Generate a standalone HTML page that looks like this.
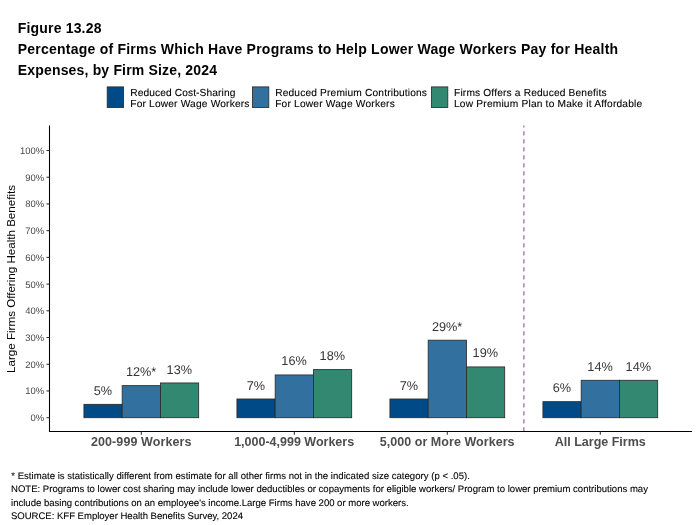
<!DOCTYPE html>
<html><head><meta charset="utf-8"><title>Figure 13.28</title>
<style>
html,body{margin:0;padding:0;background:#fff;}
body{width:698px;height:525px;overflow:hidden;font-family:"Liberation Sans",Arial,sans-serif;}
svg{display:block;position:absolute;left:0;top:0;}
text{font-family:"Liberation Sans",Arial,sans-serif;}
.t{font-weight:bold;font-size:14px;fill:#000;}
.lg{text-rendering:geometricPrecision;font-size:10.2px;fill:#000;stroke:#000;stroke-width:0.1px;}
.yt{text-rendering:geometricPrecision;font-size:9.45px;fill:#464646;text-anchor:end;}
.xt{font-size:12.5px;font-weight:bold;fill:#4d4d4d;}
.vl{text-rendering:geometricPrecision;font-size:12.7px;fill:#353535;text-anchor:middle;}
.ya{font-size:11.6px;fill:#000;text-anchor:middle;}
.nt{text-rendering:geometricPrecision;font-size:9.55px;fill:#000;stroke:#000;stroke-width:0.1px;}
</style></head><body>
<svg width="698" height="525" viewBox="0 0 698 525">
<rect width="698" height="525" fill="#fff"/>
<text id="T1" class="t" x="17.74" y="33.20" textLength="83.69" lengthAdjust="spacing">Figure 13.28</text>
<text id="T2" class="t" x="17.74" y="54.00" textLength="600.39" lengthAdjust="spacing">Percentage of Firms Which Have Programs to Help Lower Wage Workers Pay for Health</text>
<text id="T3" class="t" x="17.74" y="74.80" textLength="199.21" lengthAdjust="spacing">Expenses, by Firm Size, 2024</text>
<rect x="107.2" y="86.9" width="16.4" height="20.6" fill="#004B87" stroke="#2b2b2b" stroke-width="0.85"/>
<text id="L1a" class="lg" x="130.27" y="96.00" textLength="105.12" lengthAdjust="spacing">Reduced Cost-Sharing</text>
<text id="L1b" class="lg" x="130.27" y="107.00" textLength="119.14" lengthAdjust="spacing">For Lower Wage Workers</text>
<rect x="252.4" y="86.9" width="16.4" height="20.6" fill="#3270A0" stroke="#2b2b2b" stroke-width="0.85"/>
<text id="L2a" class="lg" x="275.20" y="96.00" textLength="151.76" lengthAdjust="spacing">Reduced Premium Contributions</text>
<text id="L2b" class="lg" x="275.20" y="107.00" textLength="119.56" lengthAdjust="spacing">For Lower Wage Workers</text>
<rect x="431.4" y="86.9" width="16.4" height="20.6" fill="#338872" stroke="#2b2b2b" stroke-width="0.85"/>
<text id="L3a" class="lg" x="454.01" y="96.00" textLength="152.46" lengthAdjust="spacing">Firms Offers a Reduced Benefits</text>
<text id="L3b" class="lg" x="454.01" y="107.00" textLength="188.19" lengthAdjust="spacing">Low Premium Plan to Make it Affordable</text>
<line x1="523.9" x2="523.9" y1="431.6" y2="125.5" stroke="#914AA0" stroke-width="1.07" stroke-dasharray="4.4 3.6"/>
<rect x="83.93" y="404.34" width="38.25" height="13.36" fill="#004B87" stroke="#2b2b2b" stroke-width="0.85"/>
<text class="vl" x="102.80" y="394.8">5%</text>
<rect x="122.18" y="385.64" width="38.25" height="32.06" fill="#3270A0" stroke="#2b2b2b" stroke-width="0.85"/>
<text class="vl" x="141.05" y="376.1">12%*</text>
<rect x="160.43" y="382.96" width="38.25" height="34.74" fill="#338872" stroke="#2b2b2b" stroke-width="0.85"/>
<text class="vl" x="179.30" y="373.5">13%</text>
<rect x="236.93" y="399.00" width="38.25" height="18.70" fill="#004B87" stroke="#2b2b2b" stroke-width="0.85"/>
<text class="vl" x="255.80" y="389.5">7%</text>
<rect x="275.18" y="374.95" width="38.25" height="42.75" fill="#3270A0" stroke="#2b2b2b" stroke-width="0.85"/>
<text class="vl" x="294.05" y="365.4">16%</text>
<rect x="313.43" y="369.60" width="38.25" height="48.10" fill="#338872" stroke="#2b2b2b" stroke-width="0.85"/>
<text class="vl" x="332.30" y="360.1">18%</text>
<rect x="389.93" y="399.00" width="38.25" height="18.70" fill="#004B87" stroke="#2b2b2b" stroke-width="0.85"/>
<text class="vl" x="408.80" y="389.5">7%</text>
<rect x="428.18" y="340.21" width="38.25" height="77.49" fill="#3270A0" stroke="#2b2b2b" stroke-width="0.85"/>
<text class="vl" x="447.05" y="330.7">29%*</text>
<rect x="466.43" y="366.93" width="38.25" height="50.77" fill="#338872" stroke="#2b2b2b" stroke-width="0.85"/>
<text class="vl" x="485.30" y="357.4">19%</text>
<rect x="542.93" y="401.67" width="38.25" height="16.03" fill="#004B87" stroke="#2b2b2b" stroke-width="0.85"/>
<text class="vl" x="561.80" y="392.2">6%</text>
<rect x="581.18" y="380.29" width="38.25" height="37.41" fill="#3270A0" stroke="#2b2b2b" stroke-width="0.85"/>
<text class="vl" x="600.05" y="370.8">14%</text>
<rect x="619.43" y="380.29" width="38.25" height="37.41" fill="#338872" stroke="#2b2b2b" stroke-width="0.85"/>
<text class="vl" x="638.30" y="370.8">14%</text>
<line x1="49.5" x2="49.5" y1="125.5" y2="432.0" stroke="#000" stroke-width="1.07"/>
<line x1="49.0" x2="692.1" y1="431.5" y2="431.5" stroke="#000" stroke-width="1.07"/>
<line x1="46.5" x2="49.5" y1="417.70" y2="417.70" stroke="#333" stroke-width="1.07"/>
<text class="yt" x="44.2" y="421.1">0%</text>
<line x1="46.5" x2="49.5" y1="390.98" y2="390.98" stroke="#333" stroke-width="1.07"/>
<text class="yt" x="44.2" y="394.4">10%</text>
<line x1="46.5" x2="49.5" y1="364.26" y2="364.26" stroke="#333" stroke-width="1.07"/>
<text class="yt" x="44.2" y="367.7">20%</text>
<line x1="46.5" x2="49.5" y1="337.54" y2="337.54" stroke="#333" stroke-width="1.07"/>
<text class="yt" x="44.2" y="340.9">30%</text>
<line x1="46.5" x2="49.5" y1="310.82" y2="310.82" stroke="#333" stroke-width="1.07"/>
<text class="yt" x="44.2" y="314.2">40%</text>
<line x1="46.5" x2="49.5" y1="284.10" y2="284.10" stroke="#333" stroke-width="1.07"/>
<text class="yt" x="44.2" y="287.5">50%</text>
<line x1="46.5" x2="49.5" y1="257.38" y2="257.38" stroke="#333" stroke-width="1.07"/>
<text class="yt" x="44.2" y="260.8">60%</text>
<line x1="46.5" x2="49.5" y1="230.66" y2="230.66" stroke="#333" stroke-width="1.07"/>
<text class="yt" x="44.2" y="234.1">70%</text>
<line x1="46.5" x2="49.5" y1="203.94" y2="203.94" stroke="#333" stroke-width="1.07"/>
<text class="yt" x="44.2" y="207.3">80%</text>
<line x1="46.5" x2="49.5" y1="177.22" y2="177.22" stroke="#333" stroke-width="1.07"/>
<text class="yt" x="44.2" y="180.6">90%</text>
<line x1="46.5" x2="49.5" y1="150.50" y2="150.50" stroke="#333" stroke-width="1.07"/>
<text class="yt" x="44.2" y="153.9">100%</text>
<line x1="141.30" x2="141.30" y1="431.5" y2="434.8" stroke="#333" stroke-width="1.07"/>
<text id="X1" class="xt" x="90.93" y="445.80" textLength="100.59" lengthAdjust="spacing">200-999 Workers</text>
<line x1="294.30" x2="294.30" y1="431.5" y2="434.8" stroke="#333" stroke-width="1.07"/>
<text id="X2" class="xt" x="234.16" y="445.80" textLength="119.98" lengthAdjust="spacing">1,000-4,999 Workers</text>
<line x1="447.30" x2="447.30" y1="431.5" y2="434.8" stroke="#333" stroke-width="1.07"/>
<text id="X3" class="xt" x="379.66" y="445.80" textLength="134.91" lengthAdjust="spacing">5,000 or More Workers</text>
<line x1="600.30" x2="600.30" y1="431.5" y2="434.8" stroke="#333" stroke-width="1.07"/>
<text id="X4" class="xt" x="554.73" y="445.80" textLength="91.07" lengthAdjust="spacing">All Large Firms</text>
<text class="ya" transform="translate(15.1,278.95) rotate(-90)">Large Firms Offering Health Benefits</text>
<text id="N1" class="nt" x="11.26" y="478.70" textLength="458.60" lengthAdjust="spacing">* Estimate is statistically different from estimate for all other firms not in the indicated size category (p &lt; .05).</text>
<text id="N2" class="nt" x="10.97" y="492.20" textLength="636.97" lengthAdjust="spacing">NOTE: Programs to lower cost sharing may include lower deductibles or copayments for eligible workers/ Program to lower premium contributions may</text>
<text id="N3" class="nt" x="11.04" y="505.80" textLength="397.62" lengthAdjust="spacing">include basing contributions on an employee's income.Large Firms have 200 or more workers.</text>
<text id="N4" class="nt" x="10.92" y="519.30" textLength="232.10" lengthAdjust="spacing">SOURCE: KFF Employer Health Benefits Survey, 2024</text>
</svg></body></html>
